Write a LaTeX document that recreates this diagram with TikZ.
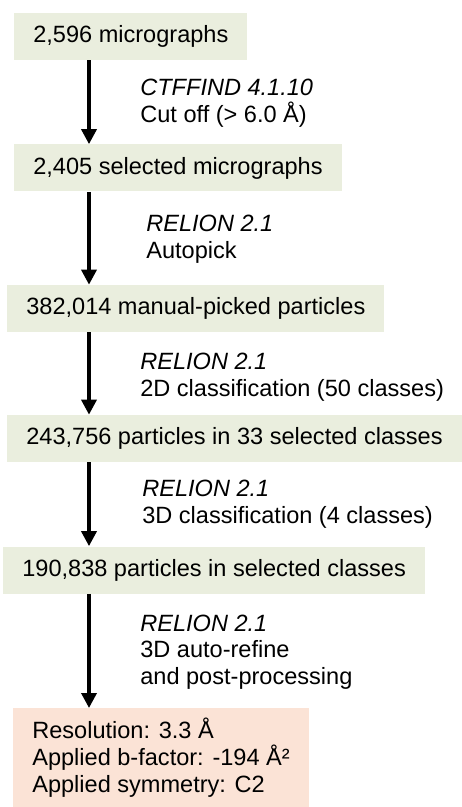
\documentclass[tikz,border=0pt]{standalone}
\usepackage{fontspec}
\setmainfont{Liberation Sans}
\usetikzlibrary{positioning,calc,arrows.meta}
\definecolor{stagegreen}{HTML}{EAEEDE}
\definecolor{resultpeach}{HTML}{FBE3D6}
\newcommand{\flowfont}{\fontsize{13.4}{15.2}\selectfont}
\tikzset{
  stage/.style={rectangle,fill=stagegreen,minimum height=9.4mm,inner xsep=3.8mm,inner ysep=0,anchor=west,font=\flowfont},
  % the final numbers sit in a taller, peach box
  result/.style={rectangle,fill=resultpeach,minimum height=19.8mm,inner xsep=3.8mm,inner ysep=0,align=left,anchor=north west,font=\flowfont},
  note/.style={anchor=west,align=left,inner sep=0,font=\flowfont},
  flow/.style={-{Triangle[width=3mm,length=3mm]},line width=2pt},
}
\newcommand{\prog}[1]{\textit{#1}}
\begin{document}
\begin{tikzpicture}
  \useasboundingbox (0,0) rectangle (9.24,-16.14);
  \coordinate (spine) at (1.78,0);
  % the stages
  \node[stage] (s1) at (0.28,-0.73) {2,596 micrographs};
  \node[stage] (s2) at (0.28,-3.36) {2,405 selected micrographs};
  \node[stage] (s3) at (0.14,-6.17) {382,014 manual-picked particles};
  \node[stage] (s4) at (0.14,-8.77) {243,756 particles in 33 selected classes};
  \node[stage] (s5) at (0.06,-11.40) {190,838 particles in selected classes};
  \node[result] (res) at (0.26,-14.16) {Resolution: 3.3 Å\\Applied b-factor: -194 Å²\\Applied symmetry: C2};
  % the arrows down the spine
  \foreach \a/\b in {s1/s2,s2/s3,s3/s4,s4/s5,s5/res} { \draw[flow] (\a.south -| spine) -- (\b.north -| spine); }
  % what was run at each step
  \node[note] (n1) at (2.80,-2.07) {\prog{CTFFIND 4.1.10}\\Cut off (> 6.0 Å)};
  \node[note] (n2) at (2.92,-4.78) {\prog{RELION 2.1}\\Autopick};
  \node[note] (n3) at (2.80,-7.54) {\prog{RELION 2.1}\\2D classification (50 classes)};
  \node[note] (n4) at (2.84,-10.08) {\prog{RELION 2.1}\\3D classification (4 classes)};
  \node[note] (n5) at (2.80,-13.04) {\prog{RELION 2.1}\\3D auto-refine\\and post-processing};
\end{tikzpicture}
\end{document}
